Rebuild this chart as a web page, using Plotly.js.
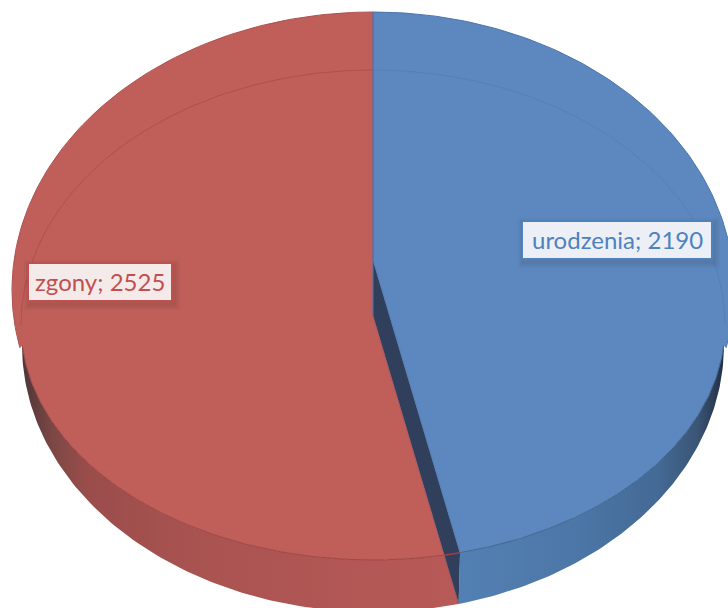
<!DOCTYPE html>
<html><head><meta charset="utf-8">
<script src="https://cdn.plot.ly/plotly-3.0.1.min.js"></script>
<style>html,body{margin:0;padding:0;background:#fff}#c{width:728px;height:608px}</style>
</head><body><div id="c"></div>
<script>
const categories = ['urodzenia', 'zgony'];
const values = [2190, 2525];
const labelColors = ['#4f81bd', '#c0504d'];
const labelFills = ['#ecf0f6', '#f5eaea'];
const faceColors = ['#5c88bf', '#c05e5a'];

// Perspective outlines of the disc, in image-like axis units
const cx = 373;
const outerTop = {rx: 361, cy: 290, ry: 278};
const outerBottom = {rx: 351, cy: 345, ry: 267};
const seamTop = {rx: 352, cy: 325, ry: 255};
const seamBottom = {rx: 352, cy: 325, ry: 235};
const apexFace = 260, apexBase = 316, topY = 12;

// slice split angle from the values
const theta = 2 * Math.PI * values[0] / (values[0] + values[1]);
const slope = Math.tan(Math.PI - theta) * 1.31;

function pt(e, deg) {
  const a = deg * Math.PI / 180;
  return [cx + e.rx * Math.sin(a), e.cy - e.ry * Math.cos(a)];
}
function arc(e, from, to) {
  const out = [], n = 120;
  for (let i = 0; i <= n; i++) out.push(pt(e, from + (to - from) * i / n));
  return out;
}
// angle (deg, clockwise from top) where the split ray meets a lower arc
function hit(e, apex) {
  let lo = 90, hi = 180;
  for (let i = 0; i < 40; i++) {
    const m = (lo + hi) / 2, p = pt(e, m);
    const rayX = cx + (p[1] - apex) * slope;
    if (p[0] > rayX) lo = m; else hi = m;
  }
  return (lo + hi) / 2;
}
const aBlueSeam = hit(seamBottom, apexFace);
const aRedSeam = hit(seamBottom, apexBase);
const aBase = hit(outerBottom, apexBase);

function poly(points, fill, extra) {
  return Object.assign({
    type: 'scatter', mode: 'lines', x: points.map(p => p[0]), y: points.map(p => p[1]),
    fill: 'toself', fillcolor: fill, line: {width: 0}, hoverinfo: 'skip', showlegend: false
  }, extra || {});
}
function stroke(points, color, w) {
  return {type: 'scatter', mode: 'lines', x: points.map(p => p[0]), y: points.map(p => p[1]),
    line: {color: color, width: w}, hoverinfo: 'skip', showlegend: false};
}

const blueWall = [...arc(seamBottom, aBlueSeam, 95), ...arc(outerBottom, 90, aBase)];
const redWall = [...arc(seamBottom, 265, aRedSeam), pt(outerBottom, aBase), ...arc(outerBottom, aBase, 270)];
const wedge = [[cx, apexFace], pt(seamBottom, aBlueSeam), pt(outerBottom, aBase), [cx, apexBase]];
const blueFace = [[cx, apexFace], [cx, topY], ...arc(outerTop, 0, 102), ...arc(seamBottom, 95, aBlueSeam)];
const redFace = [[cx, topY], ...arc(outerTop, 360, 258), ...arc(seamBottom, 265, aRedSeam), [cx, apexBase]];

const traces = [
  poly(redWall, '#b05552', {fillgradient: {type: 'horizontal', colorscale:
    [[0, '#4f3638'], [0.07, '#7c4745'], [0.15, '#9a4d4b'], [0.4, '#a95351'], [1, '#b85a57']]}}),
  poly(blueWall, '#4f78a8', {fillgradient: {type: 'horizontal', colorscale:
    [[0, '#5380b4'], [0.45, '#4c76a6'], [0.75, '#446a96'], [0.9, '#3a5575'], [1, '#232f44']]}}),
  poly(wedge, '#303f5c'),
  poly(blueFace, faceColors[0]),
  poly(redFace, faceColors[1]),
  stroke(arc(seamTop, 270, 360), '#ad5050', 1),
  stroke(arc(seamTop, 0, 90), '#5480b8', 1),
  stroke(arc(seamBottom, 265, aRedSeam), '#9c4644', 1),
  stroke(arc(seamBottom, aRedSeam, aBlueSeam), '#a83c3c', 1.5),
  stroke(arc(seamBottom, aBlueSeam, 95), '#3f6590', 1),
  stroke(arc(outerTop, 258, 360), '#ad5250', 1),
  stroke(arc(outerTop, 0, 102), '#4a75ab', 1),
  stroke([[cx, topY], [cx, apexBase]], '#4f70a0', 1.2),
  stroke([[cx, apexBase], pt(outerBottom, aBase)], '#8f5060', 0.8),
  stroke([[cx, apexFace], pt(seamBottom, aBlueSeam)], '#4a74a8', 0.8)
];

// label boxes
const boxes = [[522, 221, 712, 259], [28, 263, 172, 301]];
const shapes = [];
boxes.forEach((b, i) => {
  [6, 4, 2].forEach(g => shapes.push({type: 'rect', xref: 'x', yref: 'y', layer: 'above',
    x0: b[0] - g + 2, x1: b[2] + g + 2, y0: b[1] - g + 3, y1: b[3] + g + 3,
    fillcolor: 'rgba(50,30,40,0.05)', line: {width: 0}}));
  shapes.push({type: 'rect', xref: 'x', yref: 'y', layer: 'above',
    x0: b[0], x1: b[2], y0: b[1], y1: b[3],
    fillcolor: labelFills[i], line: {color: labelColors[i], width: 2}});
});
const annotations = categories.map((c, i) => ({
  xref: 'x', yref: 'y', showarrow: false,
  x: (boxes[i][0] + boxes[i][2]) / 2, y: (boxes[i][1] + boxes[i][3]) / 2 - 1,
  xanchor: 'center', yanchor: 'middle',
  text: c + '; ' + values[i],
  font: {family: 'Lato, "Open Sans", sans-serif', size: 24, color: labelColors[i]}
}));

Plotly.newPlot('c', traces, {
  width: 728, height: 608, margin: {l: 0, r: 0, t: 0, b: 0},
  paper_bgcolor: '#fff', plot_bgcolor: '#fff', showlegend: false,
  xaxis: {range: [0, 728], visible: false, fixedrange: true},
  yaxis: {range: [608, 0], visible: false, fixedrange: true},
  shapes, annotations
}, {displayModeBar: false, staticPlot: true});
</script></body></html>
